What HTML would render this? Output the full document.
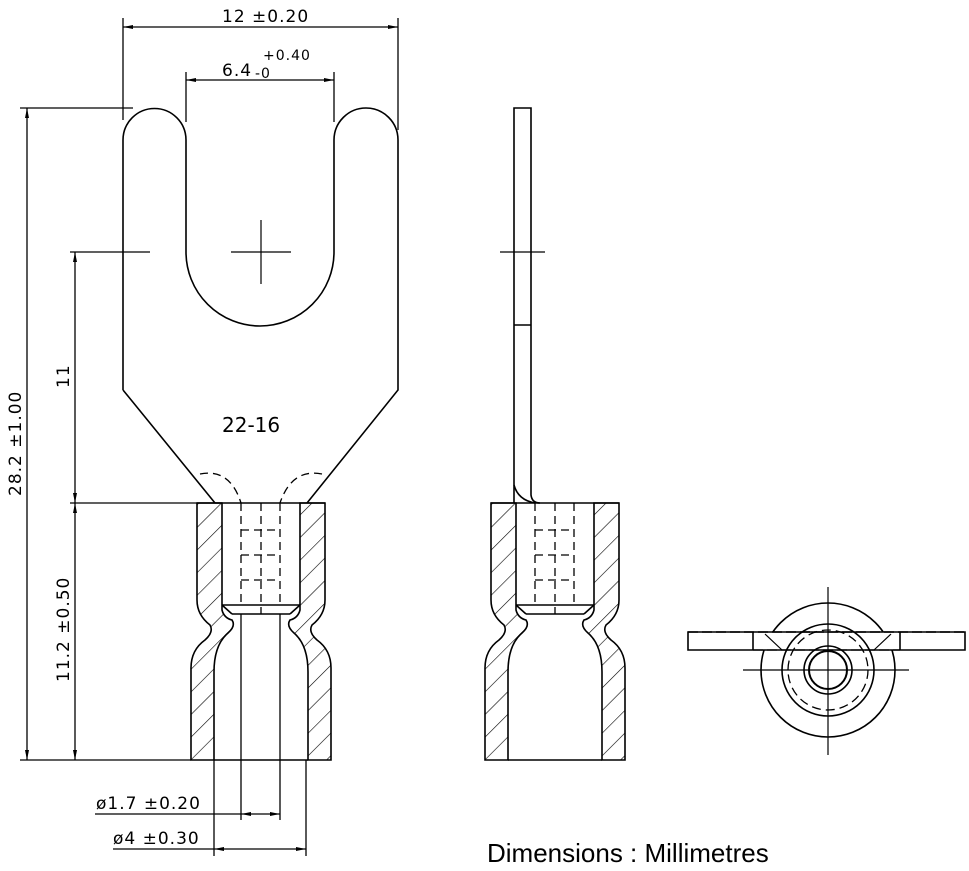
<!DOCTYPE html>
<html><head><style>
html,body{margin:0;padding:0;background:#fff;width:969px;height:871px;overflow:hidden}
svg{display:block}
text{font-family:"DejaVu Sans","Liberation Sans",sans-serif;fill:#000}
</style></head><body>
<svg width="969" height="871" viewBox="0 0 969 871" xmlns="http://www.w3.org/2000/svg">
<defs>
<pattern id="h" patternUnits="userSpaceOnUse" width="16" height="16" patternTransform="rotate(45)">
<line x1="0" y1="0" x2="0" y2="16" stroke="#000" stroke-width="1.2"/>
</pattern>
<marker id="a" viewBox="0 0 10 6" refX="10" refY="3" markerWidth="10" markerHeight="6" orient="auto-start-reverse" markerUnits="userSpaceOnUse"><path d="M0,1 L10,3 L0,5 Z" fill="#000"/></marker>
<g id="barrel" fill="none" stroke="#000" stroke-width="1.6">
<path id="lw" d="M197,503 L222,503 L222,610 Q224,618 232,620 Q236,626 228,633 Q214,645 214,672 L214,760 L191,760 L191,668 Q191,650 205,640 Q214,632 210,625 Q197,615 197,600 Z" fill="url(#h)"/>
<path d="M325,503 L300,503 L300,610 Q298,618 290,620 Q286,626 294,633 Q308,645 308,672 L308,760 L331,760 L331,668 Q331,650 317,640 Q308,632 312,625 Q325,615 325,600 Z" fill="url(#h)"/>
<line x1="222" y1="605" x2="300" y2="605"/>
<line x1="232" y1="614" x2="290" y2="614"/>
<line x1="222" y1="605" x2="232" y2="614"/>
<line x1="300" y1="605" x2="290" y2="614"/>
<line x1="214" y1="760" x2="308" y2="760"/>
<g stroke-dasharray="8,5" stroke-width="1.3">
<line x1="241" y1="503" x2="241" y2="605"/>
<line x1="280" y1="503" x2="280" y2="605"/>
<line x1="261" y1="503" x2="261" y2="614"/>
<line x1="241" y1="530" x2="280" y2="530"/>
<line x1="241" y1="555" x2="280" y2="555"/>
<line x1="241" y1="580" x2="280" y2="580"/>
</g>
</g>
</defs>

<g fill="none" stroke="#000" stroke-width="1.6">
<path d="M123,390 L123,140 A31.5,31.5 0 0 1 186,140 L186,252 A74,74 0 0 0 334,252 L334,140 A32,32 0 0 1 398,140 L398,390 L307,503 M123,390 L215,503"/>
<line x1="197" y1="503" x2="325" y2="503"/>
<path d="M200,474 Q230,468 241,503 M322,474 Q292,468 280,503 M215,503 L222,503" stroke-dasharray="8,5" stroke-width="1.3"/>
<line x1="231" y1="252" x2="291" y2="252" stroke-width="1.2"/>
<line x1="261" y1="220" x2="261" y2="284" stroke-width="1.2"/>
</g>
<use href="#barrel"/>
<text x="222" y="432" font-size="20">22-16</text>

<g stroke="#000" stroke-width="1.3" fill="none">
<line x1="241" y1="614" x2="241" y2="820"/>
<line x1="280" y1="614" x2="280" y2="820"/>
<line x1="214" y1="760" x2="214" y2="856"/>
<line x1="306" y1="760" x2="306" y2="856"/>
<line x1="95" y1="814" x2="241" y2="814"/>
<line x1="241" y1="814" x2="280" y2="814" marker-start="url(#a)" marker-end="url(#a)"/>
<line x1="113" y1="849" x2="214" y2="849"/>
<line x1="214" y1="849" x2="306" y2="849" marker-start="url(#a)" marker-end="url(#a)"/>

<line x1="123" y1="18" x2="123" y2="120"/>
<line x1="398" y1="18" x2="398" y2="130"/>
<line x1="123" y1="27" x2="398" y2="27" marker-start="url(#a)" marker-end="url(#a)"/>
<line x1="186" y1="72" x2="186" y2="122"/>
<line x1="334" y1="72" x2="334" y2="122"/>
<line x1="186" y1="80" x2="334" y2="80" marker-start="url(#a)" marker-end="url(#a)"/>

<line x1="20" y1="108" x2="133" y2="108"/>
<line x1="27" y1="108" x2="27" y2="760" marker-start="url(#a)" marker-end="url(#a)"/>
<line x1="70" y1="252" x2="150" y2="252"/>
<line x1="75" y1="252" x2="75" y2="503" marker-start="url(#a)" marker-end="url(#a)"/>
<line x1="70" y1="503" x2="197" y2="503"/>
<line x1="75" y1="503" x2="75" y2="760" marker-start="url(#a)" marker-end="url(#a)"/>
<line x1="20" y1="760" x2="191" y2="760"/>
</g>
<g font-size="17" letter-spacing="1">
<text x="222" y="22">12 ±0.20</text>
<text x="222" y="76">6.4</text>
<text x="263" y="60" font-size="14">+0.40</text>
<text x="255" y="78" font-size="14">-0</text>
<text x="96" y="809">ø1.7 ±0.20</text>
<text x="113" y="844">ø4 ±0.30</text>
<text transform="translate(21,496) rotate(-90)">28.2 ±1.00</text>
<text transform="translate(69,388) rotate(-90)">11</text>
<text transform="translate(69,682) rotate(-90)">11.2 ±0.50</text>
</g>

<g transform="translate(294,0)"><use href="#barrel"/></g>
<g fill="none" stroke="#000" stroke-width="1.6">
<line x1="491" y1="503" x2="619" y2="503"/>
<path d="M514,503 L514,108 L531,108 L531,495 Q532,503 540,503"/>
<path d="M514,485 Q518,500 535,503"/>
<line x1="514" y1="325" x2="531" y2="325"/>
<line x1="500" y1="252" x2="545" y2="252" stroke-width="1.2"/>
</g>

<g fill="none" stroke="#000" stroke-width="1.6">
<circle cx="828" cy="670" r="67" fill="#fff"/>
<path d="M688,632 L965,632 L965,650 L688,650 Z" fill="#fff"/>
<line x1="753" y1="632" x2="753" y2="650"/>
<line x1="900" y1="632" x2="900" y2="650"/>
<path d="M688,632 L965,632" stroke-dasharray="10,4"/>
<path d="M753,650 L900,650" stroke-dasharray="10,4" stroke-width="1.2"/>
<circle cx="828" cy="670" r="46"/>
<circle cx="828" cy="670" r="40" stroke-dasharray="9,5" stroke-width="1.3"/>
<circle cx="828" cy="670" r="24"/>
<circle cx="828" cy="670" r="19" stroke-width="2"/>
<line x1="828" y1="587" x2="828" y2="755" stroke-width="1.2"/>
<line x1="743" y1="670" x2="909" y2="670" stroke-width="1.2"/>
<path d="M765,634 L782,650 M891,634 L874,650" stroke-width="1.2"/>
</g>

<text x="487" y="862" font-size="26" style="font-family:'Liberation Sans',sans-serif">Dimensions : Millimetres</text>
</svg>
</body></html>
